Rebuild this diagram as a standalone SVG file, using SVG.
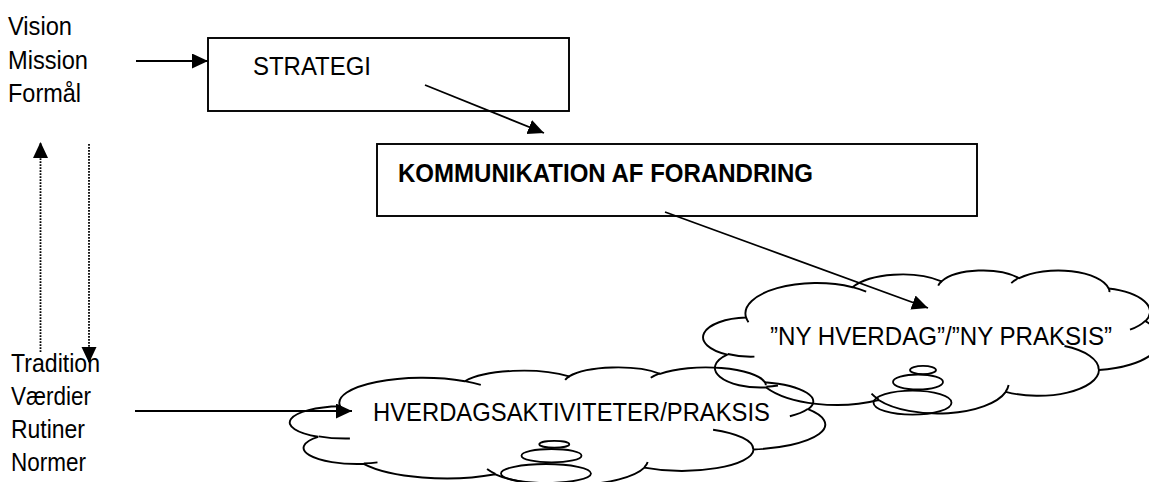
<svg xmlns="http://www.w3.org/2000/svg" width="1149" height="482" viewBox="0 0 1149 482">
<style>
  .t { font-family: "Liberation Sans", Arial, sans-serif; font-size: 25.5px; fill: #000; }
  .b { font-weight: bold; }
  .box { fill: #fff; stroke: #000; stroke-width: 1.9; }
  .cl { fill: none; stroke: #000; stroke-width: 1.9; vector-effect: non-scaling-stroke; }
  .bub { fill: none; stroke: #000; stroke-width: 1.8; }
  .con { fill: none; stroke: #000; stroke-width: 1.8; marker-end: url(#ah); }
  .dot { stroke-width: 1.8; stroke-dasharray: 1.8 1.2; }
</style>
<defs>
  <marker id="ah" markerUnits="userSpaceOnUse" markerWidth="17" markerHeight="16" refX="16" refY="7.5" orient="auto">
    <path d="M0,0 L16,7.5 L0,15 z" fill="#000"/>
  </marker>
</defs>

<g id="node-vision">
  <text class="t" x="8" y="35" textLength="64" lengthAdjust="spacingAndGlyphs">Vision</text>
  <text class="t" x="8" y="69" textLength="80" lengthAdjust="spacingAndGlyphs">Mission</text>
  <text class="t" x="8" y="102" textLength="73" lengthAdjust="spacingAndGlyphs">Formål</text>
</g>

<g id="node-tradition">
  <text class="t" x="11" y="372" textLength="89" lengthAdjust="spacingAndGlyphs">Tradition</text>
  <text class="t" x="11" y="405" textLength="80" lengthAdjust="spacingAndGlyphs">Værdier</text>
  <text class="t" x="11" y="438" textLength="74" lengthAdjust="spacingAndGlyphs">Rutiner</text>
  <text class="t" x="11" y="471" textLength="75" lengthAdjust="spacingAndGlyphs">Normer</text>
</g>

<g id="node-strategi">
  <rect class="box" x="208" y="38" width="361" height="73"/>
  <text class="t" x="253" y="75" textLength="118" lengthAdjust="spacingAndGlyphs">STRATEGI</text>
</g>

<g id="node-kommunikation">
  <rect class="box" x="377" y="144" width="600" height="72"/>
  <text class="t b" x="398" y="182" textLength="415" lengthAdjust="spacingAndGlyphs">KOMMUNIKATION AF FORANDRING</text>
</g>

<g id="node-hverdagsaktiviteter">
  <g transform="translate(292,367) scale(0.012338,0.0027315)">
    <path class="cl" d="M3900,14370 A6753,9190 0 0 1 14005,5202 A5333,7267 0 0 1 22457,3434 A4365,5945 0 0 1 29835,2483 A4857,6595 0 0 1 38320,5578 A5333,7273 0 0 1 41820,15462 A6775,9220 0 0 1 37406,30205 A5785,7867 0 0 1 28558,36816 A6752,9215 0 0 1 16483,39268 A7720,10543 0 0 1 5807,35472 A4360,5918 0 0 1 2116,25549 A4345,5945 0 0 1 3900,14370 Z"/>
    <path class="cl" d="M4693,26177 A4345,5945 0 0 1 2160,25380 M6928,34899 A4360,5918 0 0 1 5820,35281 M16478,39090 A6752,9215 0 0 1 15810,37348 M28827,34751 A6752,9215 0 0 1 28560,36660 M34129,22954 A5785,7867 0 0 1 37381,30090 M41798,15354 A5333,7273 0 0 1 40351,18029 M38324,5426 A4857,6595 0 0 1 38400,6690 M29078,3952 A4857,6595 0 0 1 29820,2339 M22141,4720 A4365,5945 0 0 1 22500,3331 M14000,5192 A6753,9190 0 0 1 15302,6543 M4127,15789 A6753,9190 0 0 1 3900,14371"/>
  </g>
  <ellipse class="bub" cx="546" cy="473.5" rx="45" ry="9.5"/>
  <ellipse class="bub" cx="551.5" cy="455.7" rx="30" ry="6.7"/>
  <ellipse class="bub" cx="554.3" cy="444.2" rx="15" ry="3.4"/>
  <text class="t" x="373" y="421" textLength="397" lengthAdjust="spacingAndGlyphs">HVERDAGSAKTIVITETER/PRAKSIS</text>
</g>

<g id="node-ny-hverdag">
  <g transform="translate(705,270) scale(0.0105324,0.0033102)">
    <path class="cl" d="M3900,14370 A6753,9190 0 0 1 14005,5202 A5333,7267 0 0 1 22457,3434 A4365,5945 0 0 1 29835,2483 A4857,6595 0 0 1 38320,5578 A5333,7273 0 0 1 41820,15462 A6775,9220 0 0 1 37406,30205 A5785,7867 0 0 1 28558,36816 A6752,9215 0 0 1 16483,39268 A7720,10543 0 0 1 5807,35472 A4360,5918 0 0 1 2116,25549 A4345,5945 0 0 1 3900,14370 Z"/>
    <path class="cl" d="M4693,26177 A4345,5945 0 0 1 2160,25380 M6928,34899 A4360,5918 0 0 1 5820,35281 M16478,39090 A6752,9215 0 0 1 15810,37348 M28827,34751 A6752,9215 0 0 1 28560,36660 M34129,22954 A5785,7867 0 0 1 37381,30090 M41798,15354 A5333,7273 0 0 1 40351,18029 M38324,5426 A4857,6595 0 0 1 38400,6690 M29078,3952 A4857,6595 0 0 1 29820,2339 M22141,4720 A4365,5945 0 0 1 22500,3331 M14000,5192 A6753,9190 0 0 1 15302,6543 M4127,15789 A6753,9190 0 0 1 3900,14371"/>
  </g>
  <ellipse class="bub" cx="912.5" cy="402.7" rx="39" ry="12"/>
  <ellipse class="bub" cx="918" cy="382" rx="25" ry="7.5"/>
  <ellipse class="bub" cx="923" cy="370" rx="13" ry="4.2"/>
  <text class="t" x="770" y="345" textLength="342" lengthAdjust="spacingAndGlyphs">”NY HVERDAG”/”NY PRAKSIS”</text>
</g>

<g id="connectors">
  <line class="con" x1="136" y1="61" x2="208" y2="61"/>
  <line class="con" x1="425" y1="85" x2="544" y2="133"/>
  <line class="con" x1="665" y1="212" x2="928" y2="308"/>
  <line class="con dot" x1="40.5" y1="352" x2="40.5" y2="142"/>
  <line class="con dot" x1="89" y1="144" x2="89" y2="363"/>
  <line class="con" x1="135" y1="411" x2="352" y2="411"/>
</g>
</svg>
